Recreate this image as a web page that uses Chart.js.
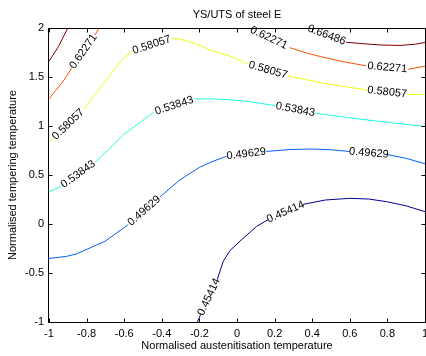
<!DOCTYPE html>
<html>
<head>
<meta charset="utf-8">
<script src="https://cdn.jsdelivr.net/npm/chart.js@4"></script>
<style>
  html, body { margin: 0; padding: 0; background: #fff; overflow: hidden; }
  #wrap { width: 440px; height: 356px; }
</style>
</head>
<body>
<div id="wrap"><canvas id="contourChart"></canvas></div>
<script>
// contour levels and their labels
const levels = [0.45414, 0.49629, 0.53843, 0.58057, 0.62271, 0.66486];
const levelText = ['0.45414', '0.49629', '0.53843', '0.58057', '0.62271', '0.66486'];
const levelColors = ['#00008f', '#0060ff', '#20ffdf', '#efff10', '#ff5000', '#800000'];

// each level: branches -> segments -> [x, y]; a label sits in every gap between segments
const line45414 = [
  [
    [[-0.211, -1.0], [-0.193, -0.923]],
    [[-0.105, -0.566], [-0.073, -0.38], [-0.037, -0.27], [0.016, -0.175], [0.105, -0.023], [0.166, 0.045]],
    [[0.351, 0.2], [0.47, 0.245], [0.6, 0.262], [0.7, 0.255], [0.795, 0.228], [0.9, 0.185], [1.0, 0.126]]
  ]
];
const line49629 = [
  [
    [[-1.0, -0.352], [-0.906, -0.33], [-0.853, -0.305], [-0.702, -0.176], [-0.578, -0.006]],
    [[-0.41, 0.275], [-0.303, 0.452], [-0.197, 0.581], [-0.129, 0.639], [-0.057, 0.69]],
    [[0.156, 0.74], [0.28, 0.76], [0.404, 0.765], [0.5, 0.757], [0.6, 0.74]],
    [[0.803, 0.707], [0.9, 0.67], [1.0, 0.615]]
  ]
];
const line53843 = [
  [
    [[-1.0, 0.327], [-0.935, 0.385]],
    [[-0.755, 0.63], [-0.684, 0.758], [-0.605, 0.91], [-0.52, 1.03], [-0.445, 1.138]],
    [[-0.223, 1.277], [-0.129, 1.277], [-0.037, 1.267], [0.08, 1.245], [0.207, 1.206]],
    [[0.413, 1.131], [0.654, 1.07], [1.0, 0.995]]
  ]
];
const line58057 = [
  [
    [[-1.0, 0.842], [-0.977, 0.87]],
    [[-0.818, 1.165], [-0.613, 1.674], [-0.56, 1.759]],
    [[-0.347, 1.895], [-0.303, 1.888], [-0.214, 1.837], [-0.144, 1.776], [-0.037, 1.715], [0.059, 1.63]],
    [[0.271, 1.511], [0.457, 1.437], [0.688, 1.369]],
    [[0.91, 1.322], [1.0, 1.322]]
  ]
];
const line62271 = [
  [
    [[-1.0, 1.277], [-0.924, 1.458], [-0.879, 1.59]],
    [[-0.755, 1.929], [-0.734, 2.0]]
  ],
  [
    [[0.059, 2.0]],
    [[0.28, 1.8], [0.37, 1.745], [0.457, 1.702], [0.57, 1.655], [0.688, 1.613]],
    [[0.91, 1.579], [1.0, 1.61]]
  ]
];
const line66486 = [
  [
    [[-1.0, 1.66], [-0.95, 1.81], [-0.9, 2.0]]
  ],
  [
    [[0.374, 2.0]],
    [[0.58, 1.855], [0.654, 1.842], [0.761, 1.827], [0.867, 1.822], [0.95, 1.835], [1.0, 1.852]]
  ]
];
const contours = [line45414, line49629, line53843, line58057, line62271, line66486];

const xTicks = [-1, -0.8, -0.6, -0.4, -0.2, 0, 0.2, 0.4, 0.6, 0.8, 1];
const yTicks = [-1, -0.5, 0, 0.5, 1, 1.5, 2];

const FONT = '"Liberation Sans", Arial, sans-serif';
Chart.defaults.font.family = FONT;
Chart.defaults.font.size = 11;
Chart.defaults.color = '#000';

// flatten branches/segments into one dataset per level, NaN points break the line
const datasets = contours.map((branches, i) => {
  const pts = [];
  branches.forEach(segs => {
    segs.forEach(seg => {
      seg.forEach(p => pts.push({ x: p[0], y: p[1] }));
      pts.push({ x: NaN, y: NaN });
    });
  });
  return {
    label: levelText[i],
    data: pts,
    borderColor: levelColors[i],
    borderWidth: 1,
    pointRadius: 0,
    fill: false,
    tension: 0,
    spanGaps: false
  };
});

const fmt = v => String(Math.round(v * 10) / 10);

const decor = {
  id: 'decor',
  afterDatasetsDraw(chart) {
    const { ctx, chartArea: a, scales: { x, y } } = chart;
    ctx.save();

    // contour labels in the line gaps
    ctx.font = '11px ' + FONT;
    ctx.fillStyle = '#000';
    ctx.textAlign = 'center';
    ctx.textBaseline = 'middle';
    contours.forEach((branches, i) => {
      branches.forEach(segs => {
        for (let k = 0; k < segs.length - 1; k++) {
          const p = segs[k][segs[k].length - 1];
          const q = segs[k + 1][0];
          const x1 = x.getPixelForValue(p[0]), y1 = y.getPixelForValue(p[1]);
          const x2 = x.getPixelForValue(q[0]), y2 = y.getPixelForValue(q[1]);
          let ang = Math.atan2(y2 - y1, x2 - x1);
          if (ang > Math.PI / 2) ang -= Math.PI;
          if (ang < -Math.PI / 2) ang += Math.PI;
          ctx.save();
          ctx.translate((x1 + x2) / 2, (y1 + y2) / 2);
          ctx.rotate(ang);
          ctx.fillText(levelText[i], 0, 0);
          ctx.restore();
        }
      });
    });

    // axes box with inward ticks
    const L = Math.round(a.left) - 0.5, R = Math.round(a.right) + 0.5;
    const T = Math.round(a.top) + 0.5, B = Math.round(a.bottom) + 0.5;
    ctx.strokeStyle = '#000';
    ctx.lineWidth = 1;
    ctx.beginPath();
    ctx.rect(L, T, R - L, B - T);
    xTicks.forEach(v => {
      const px = Math.round(x.getPixelForValue(v)) + 0.5;
      ctx.moveTo(px, B); ctx.lineTo(px, B - 4);
      ctx.moveTo(px, T); ctx.lineTo(px, T + 4);
    });
    yTicks.forEach(v => {
      const py = Math.round(y.getPixelForValue(v)) + 0.5;
      ctx.moveTo(L, py); ctx.lineTo(L + 4, py);
      ctx.moveTo(R, py); ctx.lineTo(R - 4, py);
    });
    ctx.stroke();

    // titles
    const cx = (a.left + a.right) / 2;
    ctx.textAlign = 'center';
    ctx.textBaseline = 'middle';
    ctx.fillText('YS/UTS of steel E', cx, 15);
    ctx.fillText('Normalised austenitisation temperature', cx, 346);
    ctx.save();
    ctx.translate(13, (a.top + a.bottom) / 2);
    ctx.rotate(-Math.PI / 2);
    ctx.fillText('Normalised tempering temperature', 0, 0);
    ctx.restore();

    ctx.restore();
  }
};

new Chart(document.getElementById('contourChart'), {
  type: 'line',
  data: { datasets: datasets },
  options: {
    responsive: true,
    maintainAspectRatio: false,
    animation: false,
    layout: { padding: { top: 28, right: 15, left: 0, bottom: 0 } },
    plugins: {
      legend: { display: false },
      tooltip: { enabled: false },
      title: { display: false }
    },
    scales: {
      x: {
        type: 'linear',
        min: -1,
        max: 1,
        afterBuildTicks: s => { s.ticks = xTicks.map(v => ({ value: v })); },
        afterFit: s => { s.height = 34; },
        ticks: { callback: fmt, padding: 5, maxRotation: 0, autoSkip: false },
        grid: { display: false, drawTicks: false },
        border: { display: false }
      },
      y: {
        type: 'linear',
        min: -1,
        max: 2,
        afterBuildTicks: s => { s.ticks = yTicks.map(v => ({ value: v })); },
        afterFit: s => { s.width = 49; },
        ticks: { callback: fmt, padding: 5, autoSkip: false },
        grid: { display: false, drawTicks: false },
        border: { display: false }
      }
    }
  },
  plugins: [decor]
});
</script>
</body>
</html>
